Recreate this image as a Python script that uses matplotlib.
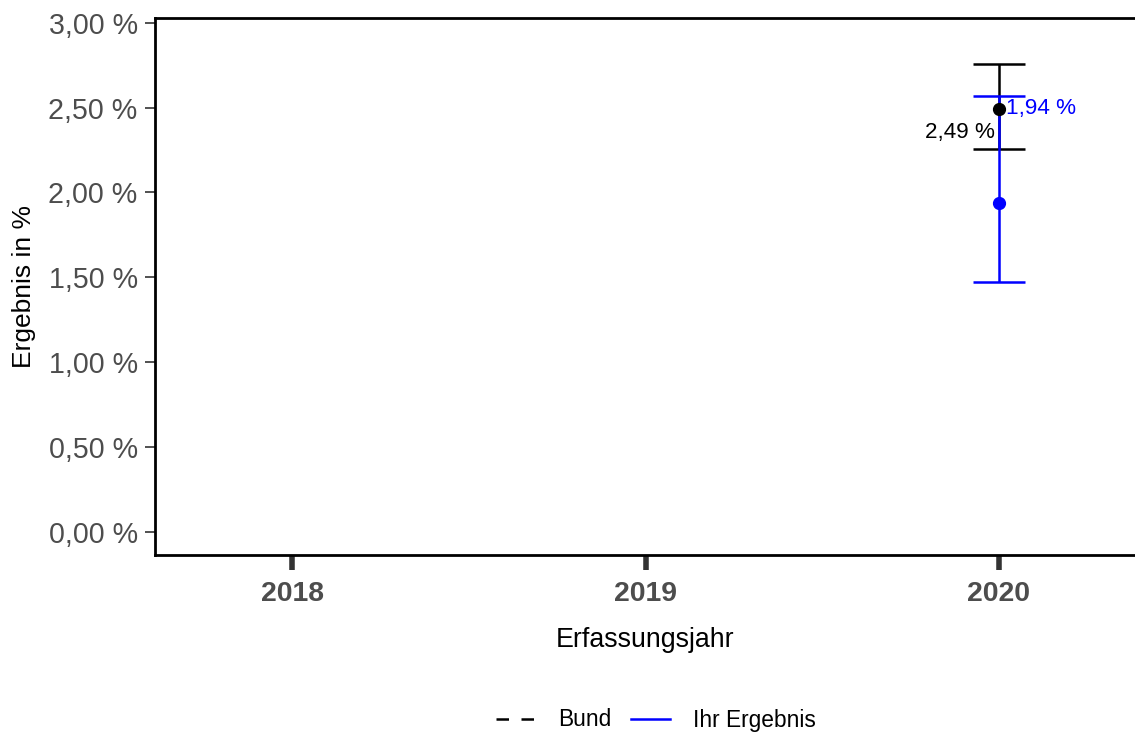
import numpy as np
import matplotlib
matplotlib.use("Agg")
import matplotlib.pyplot as plt
from matplotlib.ticker import FuncFormatter

plt.rcParams['font.family'] = ['Liberation Sans', 'DejaVu Sans']

years = [2018, 2019, 2020]
bund_values = [np.nan, np.nan, 2.49]
bund_lower = [np.nan, np.nan, 2.255]
bund_upper = [np.nan, np.nan, 2.755]
ihr_values = [np.nan, np.nan, 1.94]
ihr_lower = [np.nan, np.nan, 1.47]
ihr_upper = [np.nan, np.nan, 2.57]
bund_labels = ["", "", "2,49 %"]
ihr_labels = ["", "", "1,94 %"]
yticks = [0.0, 0.5, 1.0, 1.5, 2.0, 2.5, 3.0]

BLUE = "#0000FF"
fig = plt.figure(figsize=(11.35, 7.36), dpi=100)
ax = fig.add_axes([155/1135, 1-555/736, 1-155/1135, (555-18)/736])

x = np.array(years, dtype=float)
bv = np.array(bund_values); bl = np.array(bund_lower); bu = np.array(bund_upper)
iv = np.array(ihr_values); il = np.array(ihr_lower); iu = np.array(ihr_upper)

lw = 1.8
capw = 0.074
# lines
ax.plot(x, bv, color="black", linestyle=(0, (5, 5)), lw=lw, label="Bund")
ax.plot(x, iv, color=BLUE, linestyle="-", lw=lw, label="Ihr Ergebnis")
# error bars
for xi, lo, hi, c in [(a, b, d, "black") for a, b, d in zip(x, bl, bu)] + \
                     [(a, b, d, BLUE) for a, b, d in zip(x, il, iu)]:
    if np.isnan(lo):
        continue
    ax.vlines(xi, lo, hi, color=c, lw=lw, zorder=3)
    ax.hlines([lo, hi], xi - capw, xi + capw, color=c, lw=lw, zorder=3)
ax.plot(x, bv, 'o', color="black", ms=8.5, zorder=4)
ax.plot(x, iv, 'o', color=BLUE, ms=8.5, zorder=4)

for xi, v, t in zip(x, bv, bund_labels):
    if t:
        ax.text(xi - 0.011, v - 0.138, t, ha="right", va="center", fontsize=16.2, color="black", zorder=5)
for xi, v, t in zip(x, bv, ihr_labels):
    if t:
        ax.text(xi + 0.019, v + 0.005, t, ha="left", va="center", fontsize=16.2, color=BLUE, zorder=5)

ax.set_xlim(2018 - 137/353.5, 2020 + 136/353.5)
ax.set_ylim(-0.137, 3.028)
ax.set_xticks(years)
ax.set_xticklabels([str(y) for y in years], fontsize=20.4, fontweight="bold", color="#4D4D4D")
ax.set_yticks(yticks)
ax.yaxis.set_major_formatter(FuncFormatter(lambda v, p: f"{v:.2f} %".replace(".", ",")))
ax.tick_params(axis="y", labelsize=20.6, labelcolor="#4D4D4D", color="#333333", length=7, width=1.2, pad=5.5)
ax.tick_params(axis="x", color="#333333", length=11, width=4, pad=8)

for s in ["right"]:
    ax.spines[s].set_visible(False)
for s in ["left", "top", "bottom"]:
    ax.spines[s].set_linewidth(2)
    ax.spines[s].set_color("black")

ax.set_xlabel("Erfassungsjahr", fontsize=19.3, labelpad=14)
ax.set_ylabel("Ergebnis in %", fontsize=19, labelpad=9)

leg = fig.legend(loc="center", bbox_to_anchor=(0.578, 1 - 720/736), ncol=2, frameon=False,
                 fontsize=16.4, handlelength=1.7, handletextpad=1.0, columnspacing=0.9)

fig.savefig("out.png", dpi=100)
